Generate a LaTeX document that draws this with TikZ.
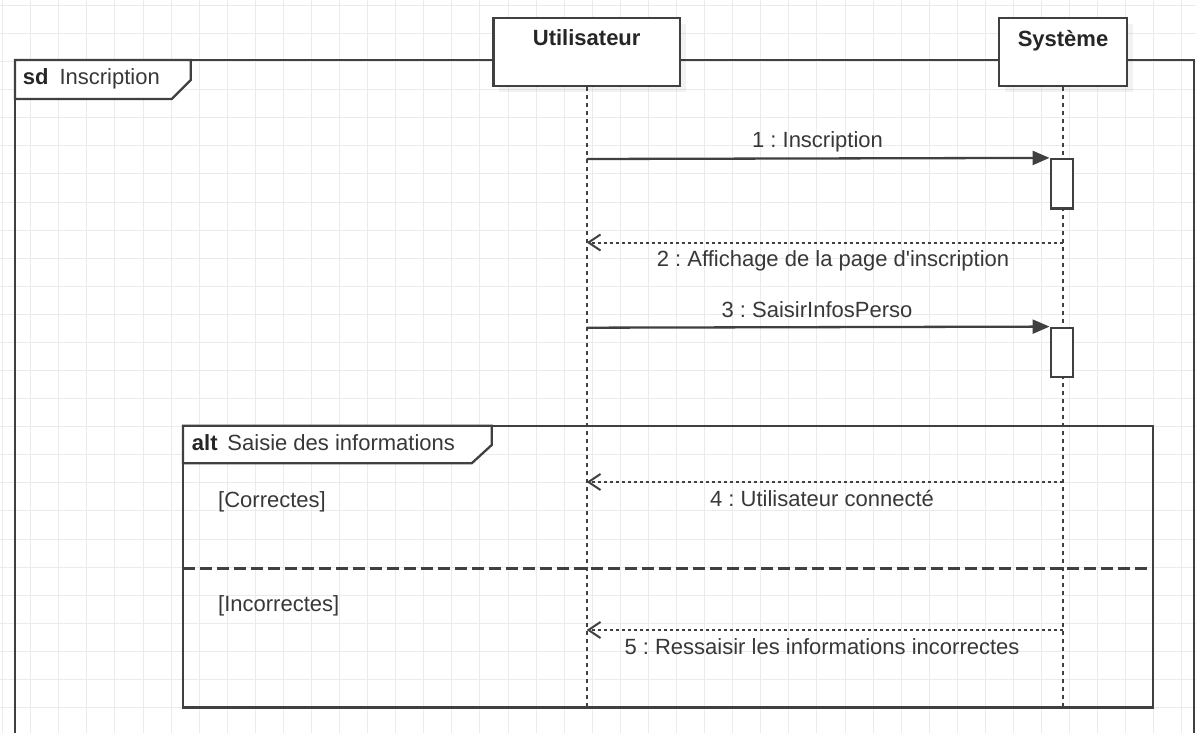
\documentclass[tikz,border=0pt]{standalone}
\usepackage{fontspec}
\setmainfont{Liberation Sans}
\usepackage{tikz}
\usetikzlibrary{arrows.meta,shadows}
\definecolor{umlline}{HTML}{404040}
\definecolor{umltext}{HTML}{383838}
\definecolor{gridgray}{HTML}{EBEBEB}

\begin{document}
\begin{tikzpicture}[x=1pt, y=-1pt,
    every node/.style={font=\fontsize{22}{26}\selectfont\frenchspacing, text=umltext, inner sep=0pt},
    gridline/.style={gridgray, line width=1pt},
    framebox/.style={umlline, line width=2.3pt},
    lifebox/.style={rectangle, draw=umlline, line width=2.3pt, fill=white,
      drop shadow={shadow xshift=6pt, shadow yshift=-6pt, fill=black, opacity=0.05}},
    headtxt/.style={font=\fontsize{22}{26}\selectfont\bfseries, text=black!85},
    lifeline/.style={umlline, line width=1.8pt, dash pattern=on 4pt off 4pt},
    actbox/.style={rectangle, draw=umlline, line width=2.3pt, fill=white,
      minimum width=22.6pt, minimum height=49.5pt},
    callmsg/.style={umlline, line width=2.3pt, -{Triangle[length=17pt,width=14pt]}},
    replymsg/.style={umlline, line width=2pt, dash pattern=on 3.5pt off 2.5pt,
      -{Straight Barb[length=12pt,width=16pt]}},
    altsep/.style={umlline, line width=2.6pt, dash pattern=on 12pt off 5pt}]
  \useasboundingbox (0,0) rectangle (1196,733);
  \clip (0,0) rectangle (1196,733);
  \fill[white] (0,0) rectangle (1196,733);
  \foreach \i in {0,...,42}
    \draw[gridline] ({2.6+28.08*\i},0) -- ({2.6+28.08*\i},733);
  \foreach \j in {0,...,26}
    \draw[gridline] (0,{5.5+28.08*\j}) -- (1196,{5.5+28.08*\j});

  \coordinate (sdbl) at (15,733);
  \coordinate (sdbr) at (1194,733);
  \draw[framebox] (sdbl) -- (15,60) -- (1194,60) -- (sdbr);
  \draw[framebox, fill=white] (15,60) -- (190.7,60) -- (190.7,80) -- (171.7,99) -- (15,99) -- cycle;
  \node[anchor=base west] (sdlabel) at (22.7,85) {\textbf{\color{black!85}sd}\hspace{0.5em}Inscription};

  \draw[framebox] (183,425.7) rectangle (1152.7,707.5);
  \draw[framebox, fill=white] (183,425.7) -- (491.7,425.7) -- (491.7,445) -- (471.7,463.3) -- (183,463.3) -- cycle;
  \node[anchor=base west] (altlabel) at (191.7,450.7) {\textbf{\color{black!85}alt}\hspace{0.45em}Saisie des informations};
  \node[anchor=base west] (guard1) at (218,507) {[Correctes]};
  \draw[altsep] (183,568.5) -- (1152.7,568.5);
  \node[anchor=base west] (guard2) at (218,611) {[Incorrectes]};

  \node[lifebox, minimum width=186.7pt, minimum height=67.7pt] (user) at (586.7,52.2) {};
  \node[headtxt, anchor=base] (usertxt) at (586.7,46) {Utilisateur};
  \node[lifebox, minimum width=128pt, minimum height=67.7pt] (sys) at (1063,52.2) {};
  \node[headtxt, anchor=base] (systxt) at (1063,46.5) {Système};

  \coordinate (userend) at (586.7,707.5);
  \coordinate (sysend) at (1063,707.5);
  \draw[lifeline] (user.south) -- (userend);
  \draw[lifeline] (sys.south) -- (sysend);

  \node[actbox] (act1) at (1062,183.8) {};
  \node[actbox] (act2) at (1062,352.5) {};

  \coordinate (u1) at (586.7,159);
  \draw[callmsg] (u1) -- (act1.north west);
  \node[anchor=base] (m1) at (817.5,147) {1 : Inscription};

  \coordinate (s2) at (1063,242.5);
  \coordinate (u2) at (586.7,242.5);
  \draw[replymsg] (s2) -- (u2);
  \node[anchor=base] (m2) at (833,266) {2 : Affichage de la page d\textquotesingle inscription};

  \coordinate (u3) at (586.7,327.7);
  \draw[callmsg] (u3) -- (act2.north west);
  \node[anchor=base] (m3) at (817,317) {3 : SaisirInfosPerso};

  \coordinate (s4) at (1063,482);
  \coordinate (u4) at (586.7,482);
  \draw[replymsg] (s4) -- (u4);
  \node[anchor=base] (m4) at (822,506) {4 : Utilisateur connecté};

  \coordinate (s5) at (1063,630);
  \coordinate (u5) at (586.7,630);
  \draw[replymsg] (s5) -- (u5);
  \node[anchor=base] (m5) at (822,654) {5 : Ressaisir les informations incorrectes};
\end{tikzpicture}
\end{document}
